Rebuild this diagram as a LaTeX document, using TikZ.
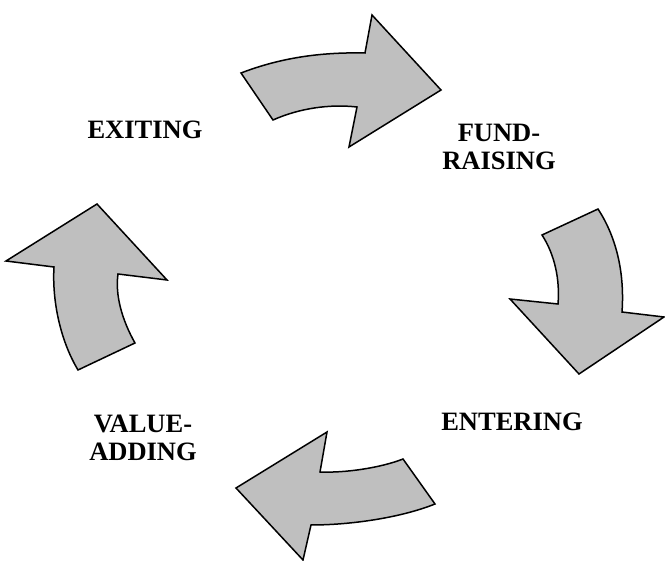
\documentclass[tikz,border=0pt]{standalone}
\usepackage{fontspec}
\setmainfont{Liberation Serif}
\usepackage{tikz}

\begin{document}
\begin{tikzpicture}[x=0.5pt, y=-0.5pt, bigarrow/.style = {draw, fill=black!25, line width=0.75pt, line join=miter}, lbl/.style = {align=center, font=\fontsize{13.25}{14}\selectfont\bfseries, inner sep=0pt}]
        \useasboundingbox (0,0) rectangle (665,561);
        \node[lbl] (exit) at (145,130) {EXITING};
        \node[lbl] (fund) at (499,147) {FUND-\\RAISING};
        \node[lbl] (enter) at (512,422) {ENTERING};
        \node[lbl] (value) at (143,438) {VALUE-\\ADDING};
        % top arrow
        \draw[bigarrow] (241,73) .. controls (280,58) and (320,52) .. (365,53) -- (372,15) -- (441,90) -- (349,147) -- (357,107) .. controls (330,104) and (300,108) .. (273,120) -- cycle;
        % right arrow
        \draw[bigarrow] (542,235) -- (598,209) .. controls (615,235) and (625,270) .. (622,312) -- (664,317) -- (579,374) -- (510,299) -- (558,304) .. controls (560,280) and (555,255) .. (542,235) -- cycle;
        % bottom arrow
        \draw[bigarrow] (403,459) -- (435,504) .. controls (400,518) and (350,525) .. (311,525) -- (303,560) -- (236,488) -- (327,432) -- (320,472) .. controls (345,473) and (380,468) .. (403,459) -- cycle;
        % left arrow
        \draw[bigarrow] (78,370) -- (135,343) .. controls (122,320) and (115,295) .. (118,274) -- (167,280) -- (97,204) -- (6,261) -- (54,267) .. controls (52,300) and (60,340) .. (78,370) -- cycle;
    \end{tikzpicture}
\end{document}
